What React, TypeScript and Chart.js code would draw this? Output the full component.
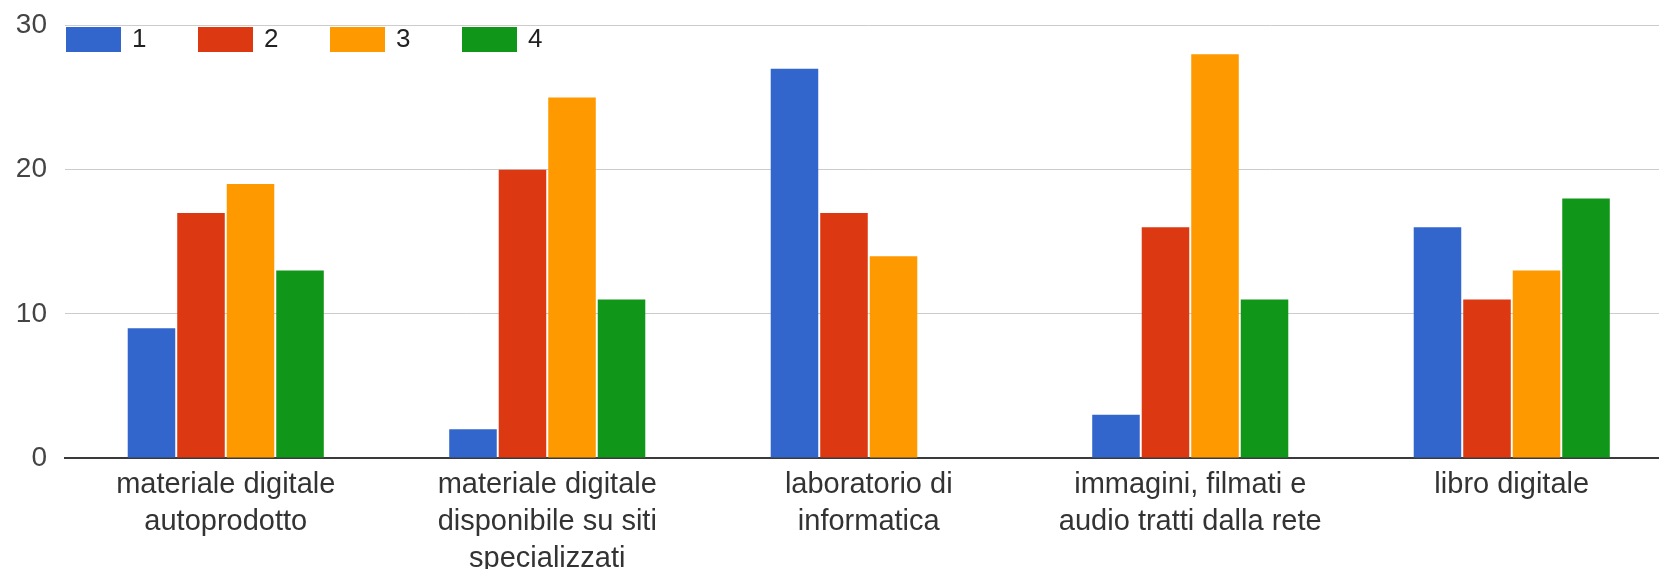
import React, { useEffect, useRef } from "react";
import { Chart, registerables } from "chart.js";

Chart.register(...registerables);

const categories: string[][] = [
  ["materiale digitale", "autoprodotto"],
  ["materiale digitale", "disponibile su siti", "specializzati"],
  ["laboratorio di", "informatica"],
  ["immagini, filmati e", "audio tratti dalla rete"],
  ["libro digitale"],
];

const seriesLabels = ["1", "2", "3", "4"];
const series1 = [9, 2, 27, 3, 16];
const series2 = [17, 20, 17, 16, 11];
const series3 = [19, 25, 14, 28, 13];
const series4 = [13, 11, 0, 11, 18];
const colors = ["#3366cc", "#dc3912", "#ff9900", "#109618"];
const yTicks = [0, 10, 20, 30];

const FONT = "'Liberation Sans', Arial, sans-serif";

const legendPlugin = {
  id: "customLegend",
  afterDatasetsDraw(chart: any) {
    const ctx = chart.ctx;
    ctx.save();
    chart.data.datasets.forEach((ds: any, i: number) => {
      const x = 66 + i * 132;
      ctx.fillStyle = ds.backgroundColor;
      ctx.fillRect(x, 27, 55, 25);
      ctx.fillStyle = "#222";
      ctx.font = `26px ${FONT}`;
      ctx.textBaseline = "middle";
      ctx.textAlign = "left";
      ctx.fillText(ds.label, x + 55 + 11, 40);
    });
    ctx.restore();
  },
};

export default function App() {
  const ref = useRef<HTMLCanvasElement | null>(null);

  useEffect(() => {
    if (!ref.current) return;
    const data = [series1, series2, series3, series4];
    const chart = new Chart(ref.current, {
      type: "bar",
      data: {
        labels: categories,
        datasets: data.map((d, i) => ({
          label: seriesLabels[i],
          data: d,
          backgroundColor: colors[i],
          borderWidth: 0,
          categoryPercentage: 0.616,
          barPercentage: 0.96,
        })),
      },
      options: {
        responsive: false,
        animation: false,
        layout: { padding: { top: 25.5, right: 27.5, left: 0, bottom: 0 } },
        plugins: {
          legend: { display: false },
          tooltip: { enabled: false },
        },
        scales: {
          x: {
            grid: { display: false, drawTicks: false },
            border: { display: true, color: "#3a3a3a", width: 2 },
            ticks: {
              color: "#333",
              font: { family: FONT, size: 29, lineHeight: 37 / 29 },
              padding: 8,
              maxRotation: 0,
              autoSkip: false,
            },
            afterFit: (scale: any) => {
              scale.height = 111;
              scale.paddingLeft = 0;
              scale.paddingRight = 0;
            },
          },
          y: {
            min: 0,
            max: 30,
            afterBuildTicks: (scale: any) => {
              scale.ticks = yTicks.map((v) => ({ value: v }));
            },
            grid: {
              color: (c: any) => (c.tick && c.tick.value === 0 ? "rgba(0,0,0,0)" : "#cccccc"),
              drawTicks: false,
              lineWidth: 1,
            },
            border: { display: false },
            ticks: {
              color: "#444",
              font: { family: FONT, size: 28 },
              padding: 18,
            },
            afterFit: (scale: any) => {
              scale.width = 65;
              scale.paddingTop = 0;
              scale.paddingBottom = 0;
            },
          },
        },
      },
      plugins: [legendPlugin],
    });
    return () => chart.destroy();
  }, []);

  return (
    <div
      style={{
        position: "fixed",
        left: 0,
        top: 0,
        width: 1659,
        height: 569,
        overflow: "hidden",
        background: "#fff",
      }}
    >
      <canvas ref={ref} width={1700} height={569} style={{ display: "block" }} />
    </div>
  );
}
